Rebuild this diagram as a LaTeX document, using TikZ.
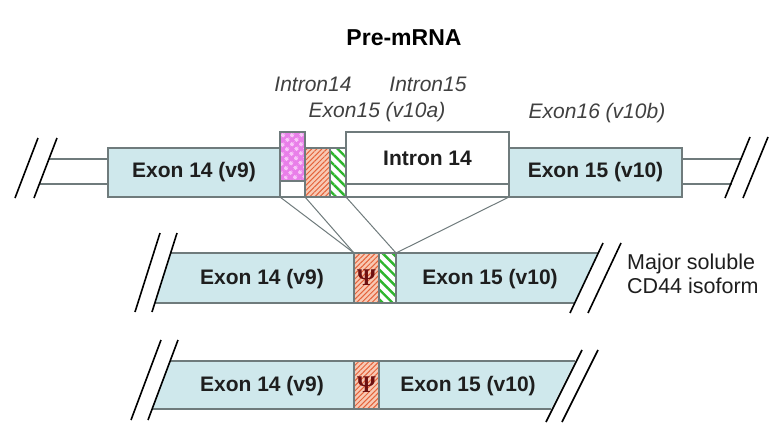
\documentclass[tikz,border=0pt]{standalone}
\usepackage{fontspec}
\setmainfont{Liberation Sans}
\newfontfamily\psifont{Liberation Serif}
\usetikzlibrary{patterns.meta}

\definecolor{exonblue}{HTML}{CFE8EC}
\definecolor{edgegray}{HTML}{6F7B7C}
\definecolor{pinkfill}{HTML}{E97FE9}
\definecolor{pinkdot}{HTML}{F8C6F8}
\definecolor{orangebg}{HTML}{F8C9B4}
\definecolor{orangeln}{HTML}{E4623A}
\definecolor{greenln}{HTML}{2DB52D}
\definecolor{textdark}{HTML}{1E1E1E}
\definecolor{psired}{HTML}{6E1010}

\begin{document}
\begin{tikzpicture}[x=1pt,y=-1pt,
  region/.style={draw=edgegray, line width=1.1pt, inner sep=0pt, outer sep=0pt},
  exon/.style={region, fill=exonblue},
  whitebox/.style={region, fill=white},
  pinkbox/.style={region, preaction={fill=pinkfill},
    pattern={Dots[radius=2.2pt,distance=6.5pt,angle=45]}, pattern color=pinkdot},
  orangebox/.style={region, preaction={fill=orangebg},
    pattern={Lines[angle=45,distance=3.6pt,line width=1pt]}, pattern color=orangeln},
  greenbox/.style={region, preaction={fill=white},
    pattern={Lines[angle=-45,distance=7pt,line width=2.4pt]}, pattern color=greenln},
  lbl/.style={font=\fontsize{21}{24}\selectfont\bfseries, text=textdark, inner sep=0pt},
  tag/.style={font=\fontsize{21}{24}\selectfont\itshape, text=textdark!85, inner sep=0pt},
  psi/.style={font=\fontsize{24}{26}\selectfont\psifont\bfseries, text=psired, inner sep=0pt},
  slash/.style={black, line width=1.6pt},
  link/.style={edgegray, line width=1pt},
  rail/.style={edgegray, line width=1.2pt}]

\useasboundingbox (0,0) rectangle (775,425);

% ---------- title ----------
\node[font=\fontsize{23}{26}\selectfont\bfseries, text=black] (title) at (404,38) {Pre-mRNA};

% ---------- pre-mRNA row ----------
\node[whitebox, minimum width=229, minimum height=49] (ibg) at (394.5,172.5) {};
\node[exon, minimum width=172, minimum height=49] (e14) at (194,172.5) {};
\node[exon, minimum width=173, minimum height=49] (e15) at (595.5,172.5) {};
\node[pinkbox, minimum width=25, minimum height=49] (pk) at (292.5,156.5) {};
\node[orangebox, minimum width=25, minimum height=49] (or) at (317.5,172.5) {};
\node[greenbox, minimum width=16, minimum height=49] (gr) at (338,172.5) {};
\node[whitebox, minimum width=163, minimum height=52] (in14) at (427.5,158) {};

\node[lbl] at (e14.center) {Exon 14 (v9)};
\node[lbl] at (e15.center) {Exon 15 (v10)};
\node[lbl] at (in14.center) {Intron 14};

% labels above the small segments
\node[tag] (t1) at (313,84) {Intron14};
\node[tag] (t2) at (428,84) {Intron15};
\node[tag] (t3) at (377,112) {Exon15 (v10a)};
\node[tag] (t4) at (597,113) {Exon16 (v10b)};

% flanking rails and break marks
\coordinate (la) at (49,159);
\coordinate (lb) at (40,184);
\coordinate (ra) at (741,159);
\coordinate (rb) at (732,184);
\draw[rail] (la) -- (la -| e14.west);
\draw[rail] (lb) -- (lb -| e14.west);
\draw[rail] (ra) -- (ra -| e15.east);
\draw[rail] (rb) -- (rb -| e15.east);
\draw[slash] (38,138) -- (15,198);
\draw[slash] (57,138) -- (34,198);
\draw[slash] (750,137) -- (725,198);
\draw[slash] (768,137) -- (743,198);

% ---------- major soluble isoform ----------
\fill[exonblue] (171,253) -- (598,253) -- (575,303) -- (155,303) -- cycle;
\draw[rail] (171,253) -- (598,253);
\draw[rail] (155,303) -- (575,303);
\node[orangebox, minimum width=25, minimum height=50] (psA) at (366.5,278) {};
\node[greenbox, minimum width=17, minimum height=50] (grA) at (387.5,278) {};
\node[psi] at (psA.center) {Ψ};
\node[lbl] at (262,279) {Exon 14 (v9)};
\node[lbl] at (490,279) {Exon 15 (v10)};
\draw[slash] (160,233) -- (135,312);
\draw[slash] (177,233) -- (152,312);
\draw[slash] (603,243) -- (570,313);
\draw[slash] (621,243) -- (588,313);
\node[font=\fontsize{21.5}{24}\selectfont, text=textdark, align=left, anchor=west, inner sep=0pt]
  (iso) at (627,274) {Major soluble\\CD44 isoform};

% splicing links
\draw[link] (ibg.south west) -- (psA.north west);
\draw[link] (or.south west) -- (psA.north west);
\draw[link] (gr.south east) -- (grA.north east);
\draw[link] (ibg.south east) -- (grA.north east);

% ---------- minor isoform ----------
\fill[exonblue] (170,361) -- (575,361) -- (551,409) -- (152,409) -- cycle;
\draw[rail] (170,361) -- (575,361);
\draw[rail] (152,409) -- (551,409);
\node[orangebox, minimum width=25, minimum height=48] (psB) at (366.5,385) {};
\node[psi] at (psB.center) {Ψ};
\node[lbl] at (262,386) {Exon 14 (v9)};
\node[lbl] at (468,386) {Exon 15 (v10)};
\draw[slash] (161,340) -- (131,420);
\draw[slash] (178,340) -- (148,420);
\draw[slash] (582,350) -- (546,422);
\draw[slash] (598,350) -- (562,422);
\end{tikzpicture}
\end{document}
